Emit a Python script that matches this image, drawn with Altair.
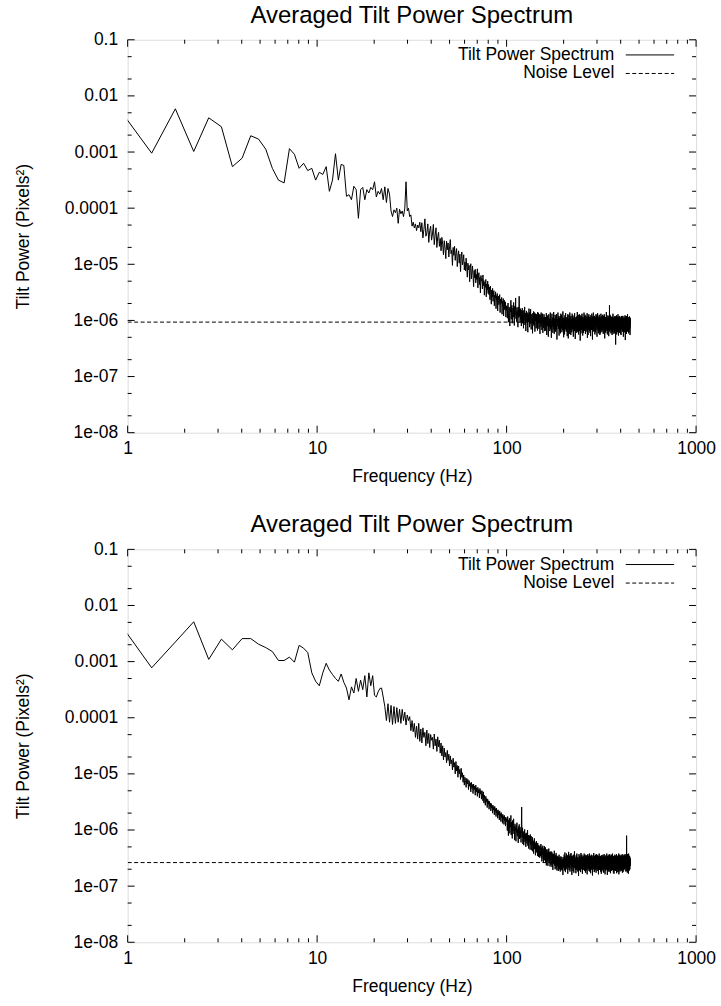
import altair as alt
import pandas as pd

# ---------------- data ----------------
DF_HZ = 450 / 1008          # spectral bin spacing (Hz)
K_FIRST = 2                 # first plotted bin index
TITLE = "Averaged Tilt Power Spectrum"
X_TITLE = "Frequency (Hz)"
Y_TITLE = "Tilt Power (Pixels²)"
LEGEND = ["Tilt Power Spectrum", "Noise Level"]

# power values in dB (10*log10 of pixels^2), panel 1
A_LOW = [-22.1, -30.2, -22.3, -29.9, -23.9, -25.5, -32.6, -31.1, -27.1, -27.7,
         -29.5, -32.9, -35.0, -35.5, -29.4, -30.4, -32.9, -32.0, -33.3, -32.9,
         -35.0, -33.6, -34.0, -32.6, -37.0, -35.0, -30.3, -35.0, -32.2, -32.4,
         -37.9, -37.6, -38.5, -36.1, -36.7, -41.8, -36.7, -36.3, -38.5, -36.7,
         -37.3, -36.3, -36.7, -35.3, -38.0, -37.0, -37.5, -36.5, -38.5, -36.2,
         -39.0, -36.5, -37.5, -40.5, -41.5, -40.3, -40.8, -40.0, -42.7, -40.2,
         -41.0, -40.5, -41.5, -40.0, -35.3, -40.5, -40.0, -41.5, -41.2, -43.2,
         -42.5, -43.5, -42.8, -44.0, -43.0, -43.5, -42.5]
A_MID = [-44.2, -42.6, -45.3, -43.8, -41.9, -45.0, -44.4, -42.8, -46.1, -44.0,
         -43.2, -45.7, -44.6, -42.9, -46.5, -44.8, -43.5, -47.0, -45.1, -44.3,
         -46.8, -45.4,
         -47.6, -45.2, -46.4, -48.3, -45.8, -47.1, -49.0, -45.9, -47.4, -46.2,
         -48.7, -46.9, -45.6, -48.1, -47.5, -50.2, -47.0, -48.4, -46.8, -49.3,
         -48.0, -47.2, -50.4, -48.6, -47.6, -49.8, -48.2, -51.3, -48.9, -47.8,
         -50.1, -49.4, -48.3, -51.0,
         -49.6, -51.2, -48.9, -50.5, -52.3, -49.8, -51.0, -50.2, -53.1, -50.7,
         -49.9, -52.6, -51.4, -50.3, -52.0, -54.0, -51.1, -52.4, -50.9, -53.3,
         -51.8, -52.7, -50.8, -54.2, -52.1, -51.5, -53.6, -52.3, -55.1, -52.0,
         -53.0, -52.6, -54.4, -51.9, -53.8, -52.9, -55.5, -53.2, -54.1, -52.7,
         -55.8, -53.5, -54.6, -53.0, -55.2,
         -53.6, -55.4, -54.1, -56.3, -53.9, -55.0, -57.1, -54.6, -55.8, -54.3,
         -56.6, -55.1, -54.7, -57.4, -55.5, -56.0, -54.9, -57.9, -55.6, -56.4,
         -55.2, -58.3, -56.1, -55.7, -57.2, -56.5, -55.4, -58.6, -56.2, -57.0,
         -56.8, -55.9, -58.9, -56.6, -57.5, -56.1, -59.2, -57.3, -56.4, -58.1,
         -57.0, -56.7, -59.4, -57.4, -58.2]
A_TRANS = [-57.4, -59.6, -58.1, -56.9, -60.3, -58.8, -57.6, -59.2, -61.0, -57.9,
           -58.5, -56.4, -59.8, -58.0, -57.3, -60.5, -58.9, -57.8, -59.4, -56.8,
           -58.6, -60.9, -57.5, -59.1, -58.2, -56.0, -59.7, -58.4, -60.2, -57.7,
           -59.0, -58.3, -61.2, -57.6, -59.5, -58.7, -55.7, -59.3, -58.0, -60.4,
           -57.9, -59.8, -58.5, -61.0, -58.2,
           -59.6, -57.8, -60.5, -58.9, -59.3, -61.4, -58.2, -60.0, -59.1, -57.6,
           -60.8, -59.4, -58.7, -61.9, -59.0, -58.3, -60.2, -59.7, -58.6, -60.9,
           -62.1, -58.8, -59.5, -60.3, -57.9, -59.9, -61.2, -58.5, -60.6, -59.2,
           -58.0, -60.4, -61.6, -59.3, -58.9, -60.0, -59.6, -62.3, -58.7, -59.8,
           -60.7, -58.4, -59.1, -61.0, -60.2, -58.6, -62.0, -59.5, -60.1, -58.8,
           -59.7, -61.4, -60.0, -58.9, -60.5, -59.2, -61.8, -58.5, -60.3, -59.9,
           -58.7, -60.8, -61.5, -59.4, -60.1, -58.9, -62.4, -59.6, -60.4, -59.0,
           -61.1, -58.6, -60.2, -59.8, -61.7, -59.3, -60.6, -58.8, -62.2, -60.0,
           -59.5, -61.3, -60.1, -58.9, -60.7, -59.4, -61.9, -60.3, -59.6]
A_FLOOR = [
    -59.4, -61.8, -60.2, -60.9, -58.7, -60.1, -62.6, -59.8, -59.1, -61.0,
    -60.6, -59.3, -61.4, -62.9, -60.0, -58.9, -59.6, -61.2, -60.4, -59.7,
    -61.9, -60.3, -58.6, -60.8, -61.5, -59.9, -60.2, -63.1, -60.7, -59.2,
    -58.8, -60.5, -61.1, -59.6, -62.2, -60.0, -59.4, -60.9, -58.5, -61.6,
    -60.3, -62.4, -59.7, -60.1, -61.3, -59.0, -60.6, -62.0, -59.5, -60.8,
    -61.7, -59.1, -58.9, -60.4, -63.4, -60.2, -59.8, -61.0, -60.5, -58.6,
    -60.0, -61.5, -60.8, -59.3, -60.1, -62.7, -59.6, -60.3, -61.9, -59.9,
    -59.2, -60.7, -62.3, -60.5, -58.8, -59.9, -61.4, -60.1, -59.0, -61.2,
    -62.1, -59.6, -60.4, -61.7, -60.0, -58.4, -60.9, -61.3, -59.7, -63.0,
    -60.2, -59.5, -61.0, -59.9, -62.5, -60.6, -59.1, -60.7, -61.6, -59.3,
    -58.7, -61.2, -60.3, -62.0, -59.8, -60.5, -61.8, -59.4, -60.0, -62.8,
    -59.9, -60.8, -58.9, -61.1, -60.4, -63.2, -59.7, -60.1, -61.5, -59.0,
    -61.3, -60.0, -59.6, -62.4, -58.6, -60.9, -60.2, -61.7, -59.5, -60.6,
    -62.6, -59.2, -60.7, -60.1, -61.4, -59.8, -62.1, -60.5, -58.8, -61.0,
    -60.4, -61.6, -59.3, -60.8, -59.9, -62.9, -60.3, -59.6, -61.2, -60.0,
    -59.1, -60.5, -61.9, -58.7, -60.6, -61.0, -59.4, -63.3, -60.2, -59.8,
    -61.1, -59.7, -60.2, -61.8, -60.0, -59.3, -62.2, -60.7, -59.9, -61.4,
    -58.5, -60.9, -62.0, -59.6, -61.3, -60.4, -59.0, -60.8, -62.5, -60.1,
    -60.7, -59.4, -61.5, -60.2, -58.9, -61.9, -60.6, -59.7, -61.0, -63.6,
    -59.6, -61.2, -60.0, -59.1, -62.3, -60.5, -61.7, -59.3, -60.4, -60.9,
    -61.6, -58.8, -60.3, -61.1, -59.5, -60.0, -62.7, -60.2, -59.4, -61.3,
    -60.1, -62.2, -59.8, -60.6, -61.4, -58.6, -60.9, -61.8, -60.3, -59.2,
    -59.7, -60.4, -61.9, -59.0, -60.7, -62.4, -59.6, -60.1, -61.2, -60.5,
    -62.0, -59.3, -60.8, -61.5, -60.2, -59.9, -61.0, -58.7, -60.6, -63.1,
    -60.9, -61.4, -59.5, -60.3, -62.6, -60.0, -59.2, -61.7, -60.4, -59.8,
    -58.9, -60.6, -61.3, -59.7, -60.1, -61.9, -60.5, -59.4, -62.2, -60.7,
    -61.2, -59.6, -60.0, -62.8, -59.1, -60.8, -61.5, -60.2, -59.9, -61.0,
    -60.3, -61.7, -58.8, -60.4, -61.1, -59.5, -60.9, -63.4, -60.0, -59.3,
    -59.4, -60.2, -61.6, -60.7, -58.6, -61.4, -60.1, -59.8, -62.0, -60.5,
    -61.8, -59.9, -60.5, -59.2, -61.0, -60.3, -62.5, -59.7, -60.8, -61.3,
    -60.0, -62.1, -59.4, -60.9, -61.7, -58.9, -60.4, -61.2, -59.6, -60.2,
    -59.1, -60.7, -61.3, -62.9, -59.8, -60.5, -60.0, -61.6, -58.7, -60.8,
    -61.5, -59.3, -60.2, -60.6, -61.9, -59.7, -62.3, -60.1, -59.5, -61.1,
    -60.4, -61.0, -59.0, -61.8, -60.3, -59.6, -60.7, -62.6, -60.0, -59.4,
    -62.3, -60.1, -60.9, -59.5, -60.2, -61.4, -58.8, -60.6, -61.7, -59.9,
    -59.8, -61.6, -60.3, -60.0, -62.1, -59.2, -61.1, -60.4, -59.7, -60.9,
    -60.6, -59.0, -61.8, -60.2, -59.6, -60.8, -62.4, -59.3, -60.5, -61.2,
    -61.0, -60.4, -59.2, -61.5, -60.7, -58.9, -60.1, -61.9, -60.3, -63.2,
    -59.5, -62.0, -60.6, -59.8, -61.3, -60.0, -59.4, -60.9, -62.2, -60.1,
    -60.8, -59.7, -61.4, -60.3, -58.5, -61.6, -60.2, -59.9, -61.0, -60.6,
    -61.9, -60.2, -59.5, -62.5, -60.0, -59.8, -61.2, -60.7, -59.1, -60.4,
    -59.6, -61.1, -60.8, -59.3, -61.7, -60.5, -62.8, -59.7, -60.3, -61.4,
    -60.2, -59.4, -61.0, -57.3, -60.6, -62.0, -59.9, -60.4, -61.5, -59.0,
    -61.6, -60.3, -59.7, -60.9, -61.2, -59.2, -60.5, -62.3, -60.0, -59.6,
    -60.5, -61.8, -60.1, -59.4, -60.7, -61.3, -59.8, -60.2, -62.6, -60.9,
    -59.3, -60.0, -62.1, -60.6, -59.5, -61.0, -60.4, -58.8, -61.4, -60.2,
    -61.2, -59.9, -60.3, -61.7, -60.1, -59.6, -62.4, -60.8, -59.4, -60.6,
    -60.0, -62.2, -59.7, -60.5, -61.1, -60.3, -59.2, -61.6, -60.7, -59.8,
    -61.4, -60.6, -59.3, -62.0, -64.3, -60.1, -60.9, -59.5, -61.8, -60.2,
    -59.7, -61.0, -60.4, -59.1, -60.8, -62.5, -60.0, -59.6, -61.3, -60.5,
    -62.1, -59.8, -60.6, -61.2, -59.4, -60.3, -61.9, -60.1, -58.9, -60.7,
    -60.3, -61.5, -59.9, -60.0, -62.7, -59.5, -60.8, -61.4, -60.2, -59.3,
    -61.0, -59.6, -62.2, -60.4, -59.8, -61.1, -60.5, -59.2, -61.6, -60.9,
    -59.5, -60.7, -61.3, -59.9, -60.2, -62.4, -59.7, -60.6, -61.0, -60.1,
    -60.8, -62.6, -59.4, -60.3, -61.5, -60.0, -59.6, -61.2, -60.7, -59.2,
    -61.3, -59.9, -60.5, -61.8, -59.3, -60.6, -62.0, -60.2, -59.5, -61.1,
    -60.1, -60.8, -59.2, -60.4, -61.7, -59.8, -60.9, -62.9, -60.3, -59.7,
    -59.6, -61.4, -60.7, -59.5, -60.0, -61.2, -59.9, -60.5, -62.1, -60.4,
    -61.7, -60.2, -59.8, -61.3, -60.6, -59.1, -61.0, -60.3, -59.6, -63.5,
    -60.4, -59.7, -61.6, -60.1, -59.3, -62.2, -60.5, -59.9, -61.4, -60.0,
    -59.2, -61.1, -60.3, -62.4, -60.8, -59.6, -60.2, -61.5, -59.4, -60.9,
    -61.5, -60.0, -59.6, -60.7, -61.2, -58.9, -62.0, -60.4, -60.1, -61.8,
    -60.3, -61.9, -60.6, -59.4, -60.0, -61.3, -59.7, -62.3, -60.5, -59.8,
    -59.9, -60.4, -62.1, -60.8, -59.5, -60.2, -61.6, -60.0, -59.3, -61.0,
    -61.2, -59.6, -60.5, -61.4, -60.1, -62.6, -59.8, -60.7, -60.3, -59.5]

# panel 2
B_LOW = [-22.8, -31.1, -26.5, -22.9, -29.6, -26.0, -27.9, -25.9, -25.9, -26.9,
         -27.5, -28.2, -29.8, -29.8, -29.2, -30.1, -27.1, -27.6, -28.4, -32.0,
         -33.5, -34.3, -32.0, -30.3, -31.5, -32.3, -33.0, -33.5, -32.2, -33.7,
         -34.7, -36.8, -34.5, -35.6, -33.0, -35.3, -33.3, -35.0, -32.5, -36.3,
         -32.0, -34.3, -32.5, -36.0, -36.3, -35.4, -34.8, -34.7, -36.3, -38.0,
         -40.5, -37.5, -40.8, -37.8, -41.2, -38.0, -41.0, -38.2, -40.8, -38.5,
         -41.0, -38.5, -40.5, -39.0, -41.3, -39.5, -40.5, -39.8, -42.3, -40.5,
         -42.5, -41.0, -43.5]
B_MID = [-41.5, -43.8, -41.0, -44.2, -42.0, -44.5, -41.8, -43.5, -42.6, -45.0,
         -42.2, -44.6, -42.8, -45.3, -43.0, -44.0, -43.5, -45.6, -42.9, -45.0,
         -43.8, -46.0, -43.4, -45.2, -44.0, -46.3,
         -44.5, -46.8, -45.0, -47.5, -45.4, -47.0, -46.2, -48.0, -45.8, -47.6,
         -46.5, -48.6, -46.8, -48.2, -47.5, -49.3, -47.2, -48.8, -48.0, -50.0,
         -47.8, -49.5, -48.5, -50.6, -48.6, -50.0, -49.2, -51.0, -49.0, -50.6,
         -49.8, -51.5, -50.2, -52.0, -50.6, -51.2, -52.4, -50.8, -51.8, -51.0,
         -52.8, -51.2, -52.2, -51.6, -53.2, -51.5, -52.6, -51.9, -53.5, -51.8,
         -52.8, -52.2, -53.8, -52.0, -53.2, -52.5, -54.0, -52.4, -53.4, -52.8,
         -54.3, -52.6, -53.6, -53.0, -54.5, -53.0,
         -53.5, -54.8, -53.2, -55.2, -53.8, -54.5, -55.6, -54.0, -55.0, -54.4,
         -56.0, -54.5, -55.4, -54.8, -56.3, -54.9, -55.8, -55.2, -56.6, -55.3,
         -56.1, -55.6, -57.0, -55.6, -56.4, -55.9, -57.3, -55.8, -56.7, -56.2,
         -57.6, -56.1, -57.0, -56.5, -57.9, -56.4, -57.3, -56.8, -58.2, -56.6,
         -57.5, -57.1, -58.5, -56.9, -57.8, -57.3, -58.8, -57.2, -58.0, -57.6,
         -59.0, -57.4, -58.3, -57.8, -59.3, -57.7, -58.5, -58.0]
B_TRANS = [
    -58.4, -60.1, -57.6, -59.3, -61.0, -58.2, -59.7, -57.9, -60.6, -58.8,
    -59.5, -57.4, -60.9, -58.6, -59.9, -61.5, -58.3, -60.2, -59.1, -58.0,
    -60.7, -59.4, -61.8, -58.9, -60.0, -59.6, -62.0, -59.2, -60.4, -58.7,
    -61.1, -59.8, -60.5, -62.3, -59.4, -60.9, -59.0, -61.6, -60.2, -59.5,
    -61.4, -60.1, -62.2, -59.7, -55.9, -60.8, -61.3, -59.6, -62.5, -60.4,
    -61.0, -62.7, -60.2, -61.5, -59.9, -62.1, -60.7, -61.8, -63.0, -60.5,
    -61.9, -60.6, -62.4, -61.2, -60.0, -62.8, -61.4, -60.9, -63.3, -61.6,
    -62.2, -61.0, -61.7, -63.5, -60.8, -62.6, -61.9, -61.1, -62.9, -63.6,
    -61.8, -62.5, -61.3, -63.8, -62.0, -62.7, -64.2, -61.9, -62.8, -61.5,
    -63.4, -62.1, -63.0, -64.5, -62.4, -63.7, -62.6, -62.0, -64.0, -63.2,
    -62.9, -64.6, -62.3, -63.9, -63.1, -64.8, -62.7, -63.5, -63.0, -64.9,
    -63.4, -62.8,
    -62.9, -64.6, -63.8, -62.5, -64.9, -63.2, -64.1, -65.6, -63.0, -64.4,
    -63.6, -62.8, -65.1, -64.0, -65.8, -63.3, -64.7, -63.9, -62.9, -65.4,
    -63.8, -64.9, -63.1, -65.7, -64.2, -64.8, -66.3, -63.6, -64.5, -63.4,
    -65.5, -64.1, -64.9, -66.4, -63.7, -65.2, -64.6, -63.3, -65.9, -64.4,
    -63.9, -65.6, -64.8, -66.5, -64.0, -65.3, -64.7, -63.8, -66.2, -64.9,
    -65.4, -63.9, -66.6, -64.5, -65.8, -64.2, -67.1, -64.8, -65.5, -64.3,
    -66.0, -64.9, -65.7, -63.7, -66.3, -65.2, -64.6, -67.0, -65.4, -64.5,
    -66.4, -65.3, -64.1, -66.8, -64.9, -65.7, -67.2, -64.6, -66.1, -65.0,
    -64.7, -66.5, -65.4, -67.3, -64.8, -66.2, -65.6, -64.4, -67.0, -65.5,
    -66.1, -64.9, -65.8, -67.4, -65.2, -66.3, -64.7, -66.6, -65.3, -67.1,
    -65.6, -66.4, -64.8, -67.2, -65.5, -66.1, -65.2, -68.0, -65.7, -66.3,
    -64.9, -66.5]
B_FLOOR = [
    -65.1, -66.8, -64.4, -65.9, -67.2, -65.5, -64.0, -66.3, -65.0, -67.5,
    -66.1, -64.7, -65.6, -67.0, -65.3, -64.2, -66.6, -65.8, -64.9, -66.4,
    -64.5, -66.2, -67.8, -65.4, -64.8, -66.0, -65.2, -63.9, -66.7, -65.6,
    -67.1, -65.0, -64.6, -66.5, -65.7, -67.4, -64.3, -65.9, -66.2, -65.1,
    -65.8, -64.1, -66.9, -65.3, -64.7, -66.1, -68.0, -65.5, -64.9, -66.6,
    -64.6, -66.3, -65.2, -67.3, -65.9, -64.4, -66.0, -65.6, -67.6, -65.0,
    -66.4, -65.1, -63.8, -65.7, -66.8, -65.3, -64.8, -66.5, -65.2, -67.0,
    -65.5, -67.7, -65.0, -64.5, -66.2, -65.8, -67.1, -64.2, -65.9, -66.3,
    -64.8, -66.0, -65.4, -67.4, -64.9, -66.6, -65.1, -65.7, -68.2, -65.3,
    -66.7, -64.3, -65.9, -66.1, -65.0, -67.2, -64.6, -66.4, -65.5, -64.9,
    -65.2, -66.9, -67.5, -65.6, -64.1, -66.2, -65.8, -64.7, -66.5, -67.0,
    -64.4, -65.7, -66.3, -65.0, -67.8, -65.4, -64.8, -66.1, -65.9, -64.6,
    -66.6, -65.3, -64.9, -67.1, -65.6, -66.4, -64.2, -65.8, -67.3, -65.1,
    -65.0, -66.7, -65.5, -64.4, -66.0, -67.6, -65.2, -66.3, -64.7, -65.9,
    -67.2, -64.8, -66.1, -65.7, -64.5, -66.8, -65.3, -67.9, -65.6, -64.9,
    -65.8, -66.5, -64.3, -65.1, -67.0, -65.9, -66.2, -64.6, -66.9, -65.4,
    -64.9, -67.3, -65.7, -66.0, -64.2, -65.5, -67.4, -65.0, -66.6, -65.2,
    -66.3, -65.1, -64.6, -67.7, -65.8, -64.8, -66.1, -65.6, -64.4, -66.8,
    -65.4, -66.2, -67.1, -64.7, -65.9, -66.5, -65.0, -68.1, -65.3, -64.9,
    -66.9, -64.5, -65.6, -66.3, -64.8, -67.0, -65.7, -64.1, -66.4, -65.5,
    -65.0, -67.5, -66.0, -65.2, -64.6, -66.7, -65.4, -66.1, -67.2, -64.7,
    -66.2, -65.3, -64.4, -66.8, -65.9, -64.9, -67.6, -65.1, -66.0, -65.6,
    -64.3, -66.4, -65.8, -67.0, -65.2, -66.1, -64.5, -65.7, -66.9, -65.0,
    -67.3, -65.5, -64.8, -66.3, -65.1, -67.9, -65.6, -64.6, -66.2, -65.9,
    -65.7, -64.2, -66.6, -65.3, -67.1, -65.0, -66.4, -65.8, -64.7, -66.0,
    -64.9, -66.1, -65.4, -67.4, -64.6, -66.8, -65.2, -66.5, -65.6, -67.8,
    -66.0, -65.3, -64.5, -66.2, -65.9, -64.8, -67.2, -65.5, -66.3, -65.0,
    -65.6, -67.0, -65.1, -64.4, -66.7, -65.4, -66.0, -67.5, -64.9, -66.1,
    -67.6, -64.7, -66.3, -65.8, -64.3, -66.5, -65.2, -66.9, -65.7, -64.6,
    -65.3, -66.4, -67.9, -65.0, -66.1, -64.8, -65.5, -67.3, -65.9, -66.2,
    -64.5, -65.9, -66.6, -65.2, -67.1, -64.9, -66.0, -65.4, -64.2, -66.8,
    -66.3, -64.8, -65.7, -68.0, -65.1, -66.4, -64.6, -66.1, -65.5, -67.2,
    -65.0, -66.7, -65.3, -64.7, -66.2, -65.8, -67.4, -64.4, -66.0, -65.6,
    -67.0, -65.2, -64.9, -66.5, -65.4, -64.3, -66.8, -65.9, -67.5, -65.1,
    -65.8, -66.3, -65.0, -67.7, -64.6, -66.0, -65.5, -64.8, -66.6, -65.3,
    -64.4, -66.9, -65.6, -65.1, -67.3, -65.9, -64.5, -66.2, -65.7, -67.0,
    -66.5, -65.0, -64.2, -66.4, -65.8, -67.1, -65.3, -64.9, -66.7, -65.4,
    -65.2, -67.6, -66.0, -64.7, -65.5, -66.3, -64.6, -67.8, -65.9, -66.1,
    -67.2, -64.9, -65.7, -66.6, -65.1, -64.4, -66.9, -65.6, -64.8, -66.2,
    -65.4, -66.0, -67.3, -65.2, -64.7, -66.5, -65.8, -67.0, -65.0, -64.5,
    -66.8, -65.5, -64.3, -66.1, -67.7, -65.3, -66.4, -64.9, -65.9, -66.6,
    -64.6, -67.0, -65.9, -65.1, -66.3, -64.8, -67.5, -65.4, -66.0, -65.2,
    -66.2, -64.5, -65.6, -67.2, -65.0, -66.6, -64.2, -65.8, -67.9, -65.5,
    -65.1, -66.4, -67.0, -64.7, -66.1, -65.3, -66.8, -65.7, -64.4, -66.5,
    -67.4, -65.6, -64.8, -66.2, -65.4, -67.1, -64.6, -66.0, -65.9, -64.9,
    -65.7, -66.9, -65.2, -64.5, -67.3, -65.8, -66.3, -64.8, -66.6, -65.1,
    -64.8, -65.5, -66.7, -65.3, -64.3, -66.0, -67.6, -65.9, -65.2, -66.4,
    -66.1, -64.6, -65.8, -67.5, -65.6, -64.9, -66.2, -65.0, -67.1, -64.7,
    -65.3, -67.2, -66.0, -64.4, -66.5, -65.7, -64.8, -66.9, -65.4, -66.3,
    -64.5, -65.9, -67.0, -65.6, -64.9, -66.8, -65.1, -64.3, -66.4, -65.8,
    -66.6, -65.0, -64.7, -66.3, -65.5, -67.4, -64.6, -66.1, -65.9, -65.2,
    -64.9, -66.5, -65.3, -67.0, -61.0, -65.7, -66.2, -64.8, -67.3, -65.5,
    -66.0, -65.2, -67.6, -64.6, -65.9, -66.4, -64.3, -66.8, -65.1, -65.7,
    -65.4, -67.1, -64.5, -66.3, -65.6, -67.8, -65.9, -64.9, -64.2, -66.5,
    -66.7, -64.8, -65.5, -66.9, -65.3, -64.7, -66.0, -65.8, -67.2, -65.0,
    -64.6, -66.2, -65.7, -67.0, -64.9, -65.6, -66.4, -65.1, -65.9, -66.3]

NOISE_DB = [-60.3, -65.8]          # noise level per panel (dB)
NOISE_F = [1, 450]                 # span of the noise-level line (Hz)

X_MAJOR = [1, 10, 100, 1000]
X_MINOR = [2, 3, 4, 5, 6, 7, 8, 9, 20, 30, 40, 50, 60, 70, 80, 90,
           200, 300, 400, 500, 600, 700, 800, 900]
Y_MAJOR = [1e-8, 1e-7, 1e-6, 1e-5, 1e-4, 1e-3, 1e-2, 1e-1]
Y_MINOR = [2e-8, 5e-8, 2e-7, 5e-7, 2e-6, 5e-6, 2e-5, 5e-5,
           2e-4, 5e-4, 2e-3, 5e-3, 2e-2, 5e-2]

# ---------------- chart ----------------
W, H = 570, 394
FONT = "Liberation Sans"
FS = 17.5
TFS = 24

xs = alt.Scale(type="log", domain=[1, 1000], nice=False)
ys = alt.Scale(type="log", domain=[1e-8, 0.1], nice=False)

xaxis = alt.Axis(values=X_MAJOR, format="d", ticks=False, domain=False, grid=False,
                 labelFont=FONT, labelFontSize=FS, labelColor="black", labelPadding=7,
                 labelFlush=False, labelOverlap=False,
                 title=X_TITLE, titleFont=FONT, titleFontSize=FS, titleFontWeight="normal",
                 titleColor="black", titleX=W / 2, titleY=44, titleBaseline="middle")
yaxis = alt.Axis(values=Y_MAJOR, ticks=False, domain=False, grid=False,
                 labelExpr="datum.value >= 0.0001 ? format(datum.value, '') : "
                           "replace(format(datum.value, '.0e'), 'e-', 'e-0')",
                 labelFont=FONT, labelFontSize=FS, labelColor="black", labelPadding=10,
                 labelFlush=False, labelOverlap=False,
                 title=Y_TITLE, titleFont=FONT, titleFontSize=FS, titleFontWeight="normal",
                 titleColor="black", titleX=-104.5, titleY=H / 2, titleAngle=270,
                 titleBaseline="middle", titleAlign="center")


def panel(vals, noise_db):
    freqs = [(K_FIRST + i) * DF_HZ for i in range(len(vals))]
    spec = pd.DataFrame({"freq": freqs, "power": [10 ** (v / 10) for v in vals]})
    noise = pd.DataFrame({"freq": NOISE_F, "power": [10 ** (noise_db / 10)] * 2})
    xt = pd.DataFrame({"t": X_MAJOR + X_MINOR,
                       "major": [True] * len(X_MAJOR) + [False] * len(X_MINOR)})
    yt = pd.DataFrame({"t": Y_MAJOR + Y_MINOR,
                       "major": [True] * len(Y_MAJOR) + [False] * len(Y_MINOR)})
    X = lambda f: alt.X(f, scale=xs, axis=xaxis)
    Y = lambda f: alt.Y(f, scale=ys, axis=yaxis)

    noise_line = alt.Chart(noise).mark_line(color="black", strokeWidth=1,
                                            strokeDash=[4, 2.5], clip=True).encode(
        x=X("freq:Q"), y=Y("power:Q"))
    spec_line = alt.Chart(spec).mark_line(color="black", strokeWidth=1, clip=True).encode(
        x=X("freq:Q"), y=Y("power:Q"))

    layers = [noise_line, spec_line]
    for major, ln in [(True, 7), (False, 4)]:
        xd = xt[xt.major == major]
        yd = yt[yt.major == major]
        layers.append(alt.Chart(xd).mark_rule(color="black", strokeWidth=1).encode(
            x=X("t:Q"), y=alt.value(H), y2=alt.value(H - ln)))
        layers.append(alt.Chart(xd).mark_rule(color="black", strokeWidth=1).encode(
            x=X("t:Q"), y=alt.value(0), y2=alt.value(ln)))
        layers.append(alt.Chart(yd).mark_rule(color="black", strokeWidth=1).encode(
            y=Y("t:Q"), x=alt.value(0), x2=alt.value(ln)))
        layers.append(alt.Chart(yd).mark_rule(color="black", strokeWidth=1).encode(
            y=Y("t:Q"), x=alt.value(W), x2=alt.value(W - ln)))

    # key (legend) drawn inside the plot, gnuplot style
    dashes = [None, [4, 2.5]]
    for i, lab in enumerate(LEGEND):
        row = pd.DataFrame({"label": [lab]})
        yy = 15.2 + i * 18.6
        layers.append(alt.Chart(row).mark_text(align="right", baseline="middle",
                                               font=FONT, fontSize=FS, color="black").encode(
            x=alt.value(488), y=alt.value(yy), text="label:N"))
        rule_kw = {"color": "black", "strokeWidth": 1}
        if dashes[i]:
            rule_kw["strokeDash"] = dashes[i]
        layers.append(alt.Chart(row).mark_rule(**rule_kw).encode(
            x=alt.value(499.5), x2=alt.value(548), y=alt.value(yy)))

    return alt.layer(*layers).properties(
        width=W, height=H,
        title=alt.TitleParams(TITLE, font=FONT, fontSize=TFS, fontWeight="normal",
                              color="black", anchor="middle", offset=-16, frame="group",
                              baseline="alphabetic"))


chart = alt.vconcat(panel(A_LOW + A_MID + A_TRANS + A_FLOOR, NOISE_DB[0]),
                    panel(B_LOW + B_MID + B_TRANS + B_FLOOR, NOISE_DB[1]),
                    spacing=27).properties(
    padding={"left": 14, "top": 1.5, "right": 5, "bottom": 3},
    background="white"
).configure_view(stroke="black", strokeWidth=1).configure(font=FONT)

chart.save("out.html", embed_options={"renderer": "svg", "actions": False})
